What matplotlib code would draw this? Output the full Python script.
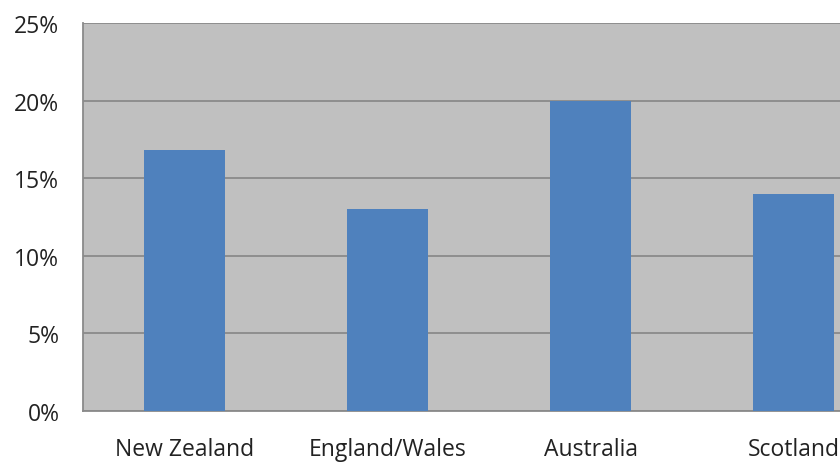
import matplotlib
matplotlib.use("Agg")
import matplotlib.pyplot as plt
from matplotlib.ticker import PercentFormatter

categories = ["New Zealand", "England/Wales", "Australia", "Scotland"]
values = [16.8, 13.0, 20.0, 14.0]
yticks = [0, 5, 10, 15, 20, 25]

plt.rcParams['font.family'] = ['Open Sans', 'DejaVu Sans']

fig = plt.figure(figsize=(8.4, 4.64), dpi=100)
W, H = 840, 464
left, right, top, bottom = 83, 895, 24, 412
ax = fig.add_axes([left / W, 1 - bottom / H, (right - left) / W, (bottom - top) / H])
ax.set_facecolor("#c0c0c0")
x = range(len(categories))
ax.bar(x, values, width=0.4, color="#4f81bd", zorder=3)
ax.set_xlim(-0.5, len(categories) - 0.5)
ax.set_ylim(0, 25)
ax.set_yticks(yticks)
ax.yaxis.set_major_formatter(PercentFormatter(decimals=0))
ax.set_xticks(list(x))
ax.set_xticklabels(categories)
ax.grid(axis="y", color="#8a8a8a", linewidth=1.3, zorder=1)
ax.tick_params(axis="both", length=0, labelsize=16.5, colors="#222222")
ax.tick_params(axis="y", pad=17)
ax.tick_params(axis="x", pad=19)
for s in ["left", "bottom"]:
    ax.spines[s].set_color("#8a8a8a")
    ax.spines[s].set_linewidth(1.3)
for s in ["top", "right"]:
    ax.spines[s].set_visible(False)

fig.savefig("out.png", dpi=100)
